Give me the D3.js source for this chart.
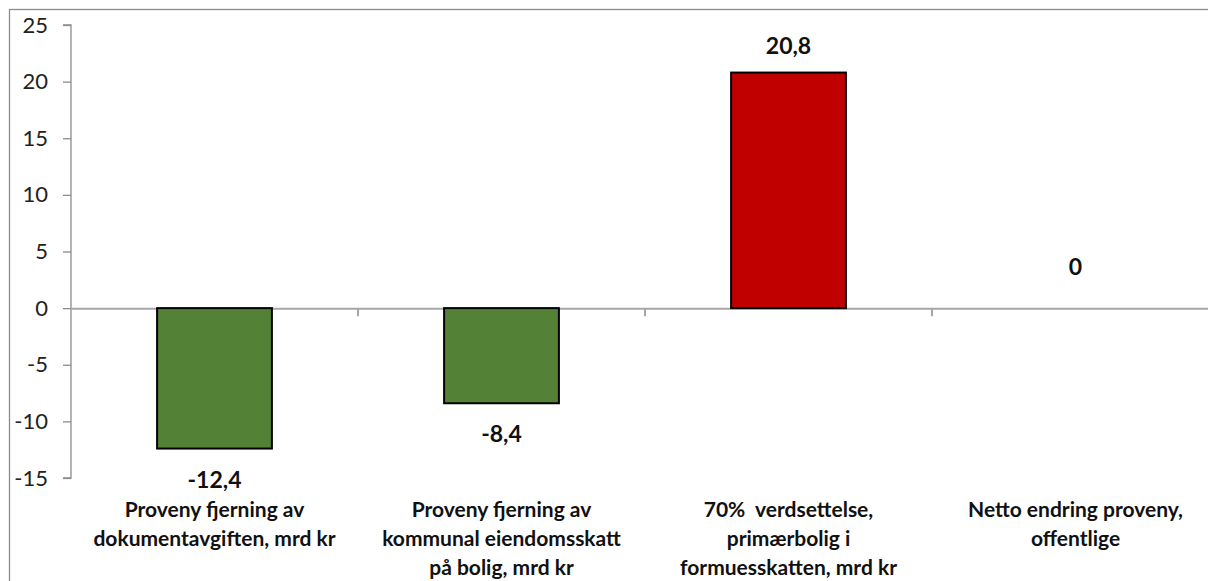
<!DOCTYPE html>
<html>
<head>
<meta charset="utf-8">
<script src="https://cdn.jsdelivr.net/npm/d3@7"></script>
<style>
  html, body { margin: 0; padding: 0; background: #fff; }
  svg { display: block; font-family: Lato, "Open Sans", sans-serif; }
</style>
</head>
<body>
<svg id="chart" width="1208" height="581"></svg>
<script>
// Revenue effects (mrd kr) of the proposed housing tax changes
const categories = [
  ["Proveny fjerning av", "dokumentavgiften, mrd kr"],
  ["Proveny fjerning av", "kommunal eiendomsskatt", "på bolig, mrd kr"],
  ["70%  verdsettelse,", "primærbolig i", "formuesskatten, mrd kr"],
  ["Netto endring proveny,", "offentlige"]
];
const values = [-12.4, -8.4, 20.8, 0];
const valueLabels = ["-12,4", "-8,4", "20,8", "0"];
const barColors = ["#538135", "#538135", "#C00000", "#538135"];
const yTicks = [25, 20, 15, 10, 5, 0, -5, -10, -15];

const svg = d3.select("#chart");
const margin = { left: 71, top: 25, right: -11, bottom: 103 };
const W = 1208, H = 581;

// outer chart frame
svg.append("rect")
  .attr("x", 9.5).attr("y", 9.5)
  .attr("width", 1220).attr("height", 600)
  .attr("fill", "none").attr("stroke", "#8c8c8c").attr("stroke-width", 1.3);

const x = d3.scaleBand()
  .domain(d3.range(categories.length))
  .range([margin.left, W - margin.right])
  .paddingInner(0).paddingOuter(0);

const y = d3.scaleLinear().domain([-15, 25]).range([H - margin.bottom, margin.top]);

// y axis
const yAxis = svg.append("g")
  .attr("transform", `translate(${margin.left},0)`)
  .call(d3.axisLeft(y).tickValues(yTicks).tickSize(8).tickPadding(15).tickFormat(d => d));
yAxis.select(".domain").attr("stroke", "#8c8c8c").attr("stroke-width", 1.3)
  .attr("d", `M-8,${y(25)}H0V${y(-15)}H-8`);
yAxis.selectAll(".tick line").attr("stroke", "#8c8c8c").attr("stroke-width", 1.3);
yAxis.selectAll(".tick text").attr("font-size", 22).attr("fill", "#222")
  .attr("font-family", "Lato, sans-serif");

// zero line with category ticks
const xAxis = svg.append("g")
  .attr("transform", `translate(0,${y(0)})`)
  .call(d3.axisBottom(x).tickSize(0).tickFormat(""));
xAxis.select(".domain").attr("stroke", "#a6a6a6").attr("stroke-width", 2);
xAxis.selectAll(".tick").remove();
x.domain().slice(1).forEach(i => {
  xAxis.append("line")
    .attr("x1", x(i)).attr("x2", x(i))
    .attr("y1", 0).attr("y2", 8)
    .attr("stroke", "#a6a6a6").attr("stroke-width", 2);
});

// bars
const bw = x.bandwidth() * 0.4;
svg.append("g").selectAll("rect")
  .data(values)
  .join("rect")
  .attr("x", (d, i) => x(i) + (x.bandwidth() - bw) / 2)
  .attr("y", d => y(Math.max(0, d)))
  .attr("width", bw)
  .attr("height", d => Math.abs(y(d) - y(0)))
  .attr("fill", (d, i) => barColors[i])
  .attr("stroke", "#000")
  .attr("stroke-width", 2)
  .style("display", d => d === 0 ? "none" : null);

// value labels at the outer end of each bar
svg.append("g").selectAll("text")
  .data(values)
  .join("text")
  .attr("x", (d, i) => x(i) + x.bandwidth() / 2)
  .attr("y", d => d < 0 ? y(d) + 39 : (d > 0 ? y(d) - 19 : y(d) - 33))
  .attr("text-anchor", "middle")
  .attr("font-size", 23).attr("font-weight", "bold").attr("fill", "#111")
  .text((d, i) => valueLabels[i]);

// category labels
const cat = svg.append("g").selectAll("text")
  .data(categories)
  .join("text")
  .attr("x", (d, i) => x(i) + x.bandwidth() / 2)
  .attr("y", 517)
  .attr("text-anchor", "middle")
  .style("white-space", "pre")
  .attr("font-size", 21).attr("font-weight", "bold").attr("fill", "#111");
cat.selectAll("tspan")
  .data(d => d)
  .join("tspan")
  .attr("x", function () { return d3.select(this.parentNode).attr("x"); })
  .attr("dy", (d, j) => j === 0 ? 0 : 29)
  .text(d => d);
</script>
</body>
</html>
